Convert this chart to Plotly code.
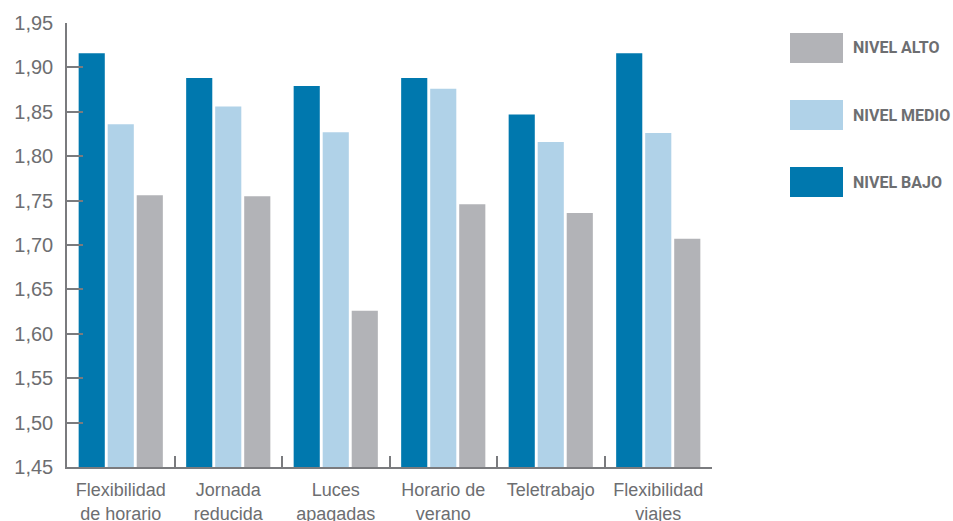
import plotly.graph_objects as go

# Categories and series values
categorias = [
    "Flexibilidad<br>de horario",
    "Jornada<br>reducida",
    "Luces<br>apagadas",
    "Horario de<br>verano",
    "Teletrabajo",
    "Flexibilidad<br>viajes",
]
nivel_bajo = [1.916, 1.888, 1.879, 1.888, 1.847, 1.916]
nivel_medio = [1.836, 1.856, 1.827, 1.876, 1.816, 1.826]
nivel_alto = [1.756, 1.755, 1.626, 1.746, 1.736, 1.707]

series = [
    ("NIVEL BAJO", nivel_bajo, "#0078ae"),
    ("NIVEL MEDIO", nivel_medio, "#b0d2e8"),
    ("NIVEL ALTO", nivel_alto, "#b2b3b7"),
]

W, H = 953, 521
L, R, T, B = 67, 241, 23, 54
AXIS_GREY = "#7a7b7e"
TEXT_GREY = "#6d6e71"

fig = go.Figure()
for name, vals, color in series:
    fig.add_trace(go.Bar(
        x=categorias, y=vals, name=name,
        marker=dict(color=color, line=dict(width=0)),
        showlegend=False,
    ))


def px_x(px):
    return (px - L) / (W - L - R)


def px_y(py):
    return (H - B - py) / (H - T - B)


# Hand-drawn legend with large swatches (top to bottom: alto, medio, bajo)
shapes = []
annotations = []
for i, (name, vals, color) in enumerate(reversed(series)):
    top = 33 + i * 67
    shapes.append(dict(
        type="rect", xref="paper", yref="paper",
        x0=px_x(790), x1=px_x(843), y0=px_y(top + 30), y1=px_y(top),
        fillcolor=color, line=dict(width=0),
    ))
    annotations.append(dict(
        xref="paper", yref="paper", x=px_x(851), y=px_y(top + 15),
        xanchor="left", yanchor="middle", showarrow=False,
        text="<b>%s</b>" % name,
        font=dict(family="Roboto, sans-serif", size=16, color=TEXT_GREY),
    ))

fig.update_layout(
    width=W, height=H,
    margin=dict(l=L, r=R, t=T, b=B, pad=0, autoexpand=False),
    paper_bgcolor="white", plot_bgcolor="white",
    barmode="group", bargap=0.19, bargroupgap=0.1,
    separators=", ",
    font=dict(family="Liberation Sans, Arial, sans-serif", color=TEXT_GREY),
    shapes=shapes, annotations=annotations,
    xaxis=dict(
        automargin=False,
        showline=True, linecolor=AXIS_GREY, linewidth=1.5,
        ticks="inside", tickson="boundaries", ticklen=11, tickwidth=1.5,
        tickcolor=AXIS_GREY, showgrid=False, zeroline=False,
        tickfont=dict(size=18, color=TEXT_GREY),
        ticklabelstandoff=6,
    ),
    yaxis=dict(
        automargin=False,
        range=[1.45, 1.95], dtick=0.05, tick0=1.45, tickformat=".2f",
        showline=True, linecolor=AXIS_GREY, linewidth=1.5,
        ticks="inside", ticklen=16, tickwidth=1.5, tickcolor=AXIS_GREY,
        showgrid=False, zeroline=False,
        tickfont=dict(size=20, color=TEXT_GREY),
        ticklabelstandoff=8,
    ),
)

fig.write_html("out.html")
